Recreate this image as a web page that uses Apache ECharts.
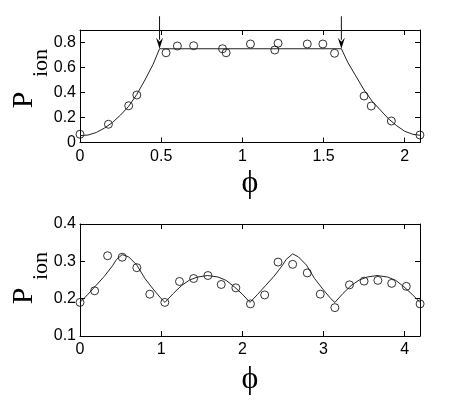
<!DOCTYPE html>
<html>
<head>
<meta charset="utf-8">
<script src="https://cdn.jsdelivr.net/npm/echarts@6/dist/echarts.min.js"></script>
<style>
  html, body { margin: 0; padding: 0; background: #fff; }
  #chart { width: 463px; height: 409px; }
</style>
</head>
<body>
<div id="chart"></div>
<script>
// top panel: measured points
var topX = [0, 0.175, 0.30, 0.35, 0.53, 0.60, 0.70, 0.878, 0.90, 1.05, 1.20, 1.22, 1.40, 1.496, 1.568, 1.75, 1.794, 1.918, 2.094];
var topY = [0.066, 0.146, 0.294, 0.38, 0.718, 0.772, 0.774, 0.75, 0.718, 0.788, 0.74, 0.794, 0.788, 0.788, 0.714, 0.372, 0.292, 0.172, 0.06];
// top panel: theory curve
var topCurveX = [0, 0.05, 0.1, 0.15, 0.2, 0.25, 0.3, 0.35, 0.4, 0.45, 0.49, 1.61, 1.65, 1.7, 1.75, 1.8, 1.85, 1.9, 1.95, 2.0, 2.05, 2.094];
var topCurveY = [0.055, 0.06, 0.08, 0.115, 0.16, 0.22, 0.29, 0.385, 0.50, 0.625, 0.75, 0.75, 0.64, 0.53, 0.42, 0.33, 0.26, 0.19, 0.135, 0.09, 0.066, 0.058];
// arrows over the plateau edges: [x, yFrom, yTo]
var arrowX = [0.49, 1.61];
var arrowFrom = [1.01, 1.01];
var arrowTo = [0.75, 0.75];

// bottom panel: measured points
var botX = [0, 0.18, 0.34, 0.52, 0.70, 0.86, 1.045, 1.226, 1.40, 1.576, 1.74, 1.92, 2.10, 2.275, 2.44, 2.62, 2.80, 2.96, 3.14, 3.32, 3.50, 3.67, 3.84, 4.02, 4.19];
var botY = [0.190, 0.221, 0.315, 0.311, 0.283, 0.212, 0.190, 0.246, 0.254, 0.262, 0.238, 0.229, 0.186, 0.210, 0.298, 0.292, 0.269, 0.212, 0.176, 0.237, 0.247, 0.249, 0.241, 0.233, 0.186];
// bottom panel: theory curve
var botCurveX = [0, 0.1, 0.2, 0.3, 0.4, 0.45, 0.52, 0.6, 0.7, 0.8, 0.9, 1.0, 1.047, 1.15, 1.25, 1.35, 1.45, 1.57, 1.7, 1.8, 1.9, 2.0, 2.094,
                 2.19, 2.29, 2.39, 2.49, 2.54, 2.62, 2.69, 2.79, 2.89, 2.99, 3.09, 3.14, 3.24, 3.34, 3.44, 3.54, 3.66, 3.79, 3.89, 3.99, 4.09, 4.189];
var botCurveY = [0.19, 0.212, 0.236, 0.26, 0.288, 0.305, 0.318, 0.312, 0.29, 0.254, 0.226, 0.2, 0.19, 0.214, 0.235, 0.25, 0.258, 0.262, 0.258, 0.249, 0.232, 0.212, 0.19,
                 0.212, 0.236, 0.26, 0.288, 0.305, 0.32, 0.312, 0.29, 0.254, 0.226, 0.2, 0.19, 0.214, 0.235, 0.25, 0.258, 0.262, 0.258, 0.249, 0.232, 0.212, 0.19];

function zip(a, b) {
    return a.map(function (v, i) { return [v, b[i]]; });
}

var chart = echarts.init(document.getElementById('chart'));

var tickFont = { color: '#000', fontSize: 16, fontFamily: 'Liberation Sans, Arial, sans-serif' };

function boxAxis(grid, pos, labels, extra) {
    var ax = {
        type: 'value',
        gridIndex: grid,
        position: pos,
        axisLine: { show: true, onZero: false, lineStyle: { color: '#000', width: 1 } },
        axisTick: { show: true, inside: true, length: 5, lineStyle: { color: '#000', width: 1 } },
        splitLine: { show: false },
        axisLabel: labels ? Object.assign({ showMaxLabel: false }, tickFont) : { show: false }
    };
    return Object.assign(ax, extra);
}

var option = {
    animation: false,
    backgroundColor: '#fff',
    grid: [
        { left: 80, top: 30, width: 340, height: 112.5 },
        { left: 80, top: 224, width: 340, height: 112 }
    ],
    xAxis: [
        boxAxis(0, 'bottom', true, { min: 0, max: 2.0944, interval: 0.5, axisLabel: Object.assign({ margin: 6, showMaxLabel: false }, tickFont) }),
        boxAxis(0, 'top', false, { min: 0, max: 2.0944, interval: 0.5 }),
        boxAxis(1, 'bottom', true, { min: 0, max: 4.1888, interval: 1, axisLabel: Object.assign({ margin: 6, showMaxLabel: false }, tickFont) }),
        boxAxis(1, 'top', false, { min: 0, max: 4.1888, interval: 1 })
    ],
    yAxis: [
        boxAxis(0, 'left', true, { min: 0, max: 0.9, interval: 0.2, axisLabel: Object.assign({ margin: 4, showMaxLabel: false }, tickFont) }),
        boxAxis(0, 'right', false, { min: 0, max: 0.9, interval: 0.2 }),
        boxAxis(1, 'left', true, { min: 0.1, max: 0.4, interval: 0.1, axisLabel: Object.assign({ margin: 4 }, tickFont) }),
        boxAxis(1, 'right', false, { min: 0.1, max: 0.4, interval: 0.1 })
    ],
    graphic: [
        { type: 'text', x: 24, y: 100, rotation: Math.PI / 2, style: { text: 'P', font: '30px "Liberation Serif", serif', fill: '#000', align: 'center', verticalAlign: 'middle' } },
        { type: 'text', x: 41, y: 63, rotation: Math.PI / 2, style: { text: 'ion', font: '22px "Liberation Serif", serif', fill: '#000', align: 'center', verticalAlign: 'middle' } },
        { type: 'text', x: 24, y: 296, rotation: Math.PI / 2, style: { text: 'P', font: '30px "Liberation Serif", serif', fill: '#000', align: 'center', verticalAlign: 'middle' } },
        { type: 'text', x: 41, y: 266, rotation: Math.PI / 2, style: { text: 'ion', font: '22px "Liberation Serif", serif', fill: '#000', align: 'center', verticalAlign: 'middle' } },
        { type: 'text', x: 250, y: 184, style: { text: 'ϕ', font: '32px "Liberation Serif", "DejaVu Serif", serif', fill: '#000', align: 'center', verticalAlign: 'middle' } },
        { type: 'text', x: 250, y: 380, style: { text: 'ϕ', font: '32px "Liberation Serif", "DejaVu Serif", serif', fill: '#000', align: 'center', verticalAlign: 'middle' } }
    ],
    series: [
        {
            type: 'line', xAxisIndex: 0, yAxisIndex: 0,
            data: zip(topCurveX, topCurveY),
            symbol: 'none', silent: true,
            lineStyle: { color: '#222', width: 1 }
        },
        {
            type: 'scatter', xAxisIndex: 0, yAxisIndex: 0,
            data: zip(topX, topY),
            symbol: 'circle', symbolSize: 8,
            itemStyle: { color: 'transparent', borderColor: '#000', borderWidth: 1 }
        },
        {
            type: 'custom', xAxisIndex: 0, yAxisIndex: 0,
            clip: false, silent: true,
            data: arrowX.map(function (x, i) { return [x, arrowFrom[i], arrowTo[i]]; }),
            renderItem: function (params, api) {
                var a = api.coord([api.value(0), api.value(1)]);
                var b = api.coord([api.value(0), api.value(2)]);
                var head = 11, half = 3.5;
                return {
                    type: 'group',
                    children: [
                        { type: 'line', shape: { x1: a[0], y1: a[1], x2: b[0], y2: b[1] - head + 2 }, style: { stroke: '#111', lineWidth: 1 } },
                        { type: 'polygon', shape: { points: [[b[0], b[1]], [b[0] - half, b[1] - head], [b[0], b[1] - head + 4], [b[0] + half, b[1] - head]] }, style: { fill: '#000' } }
                    ]
                };
            }
        },
        {
            type: 'line', xAxisIndex: 2, yAxisIndex: 2,
            data: zip(botCurveX, botCurveY),
            symbol: 'none', silent: true,
            lineStyle: { color: '#222', width: 1 }
        },
        {
            type: 'scatter', xAxisIndex: 2, yAxisIndex: 2,
            data: zip(botX, botY),
            symbol: 'circle', symbolSize: 8,
            itemStyle: { color: 'transparent', borderColor: '#000', borderWidth: 1 }
        }
    ]
};

chart.setOption(option);
</script>
</body>
</html>
